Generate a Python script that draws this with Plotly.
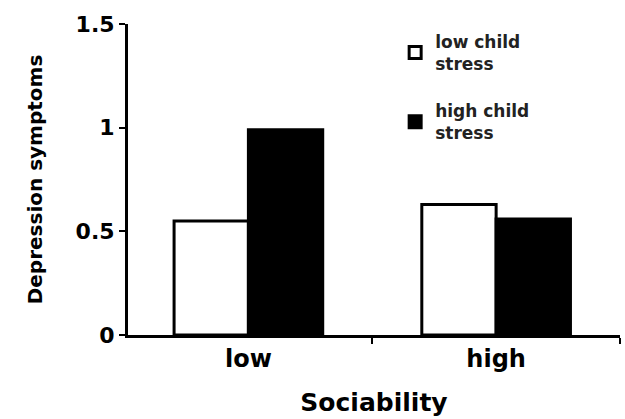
import plotly.graph_objects as go

# Mean depression symptoms by sociability level and child stress
sociability = ["low", "high"]
low_child_stress = [0.55, 0.63]
high_child_stress = [0.99, 0.56]
series_names = ["low child<br>stress", "high child<br>stress"]
y_ticks = [0, 0.5, 1, 1.5]
y_tick_labels = ["0", "0.5", "1", "1.5"]

FONT = "DejaVu Sans"

fig = go.Figure()
fig.add_trace(go.Bar(
    x=sociability, y=low_child_stress, name=series_names[0],
    legendgroup="a",
    marker=dict(color="white", line=dict(color="black", width=3)),
))
fig.add_trace(go.Bar(
    x=sociability, y=high_child_stress, name=series_names[1],
    legendgroup="b",
    marker=dict(color="black", line=dict(color="black", width=3)),
))

fig.update_layout(
    width=625, height=419,
    margin=dict(l=128, r=5, t=24, b=84),
    paper_bgcolor="white", plot_bgcolor="white",
    barmode="group", bargap=0.4, bargroupgap=0,
    font=dict(family=FONT, color="black", weight="bold"),
    showlegend=True,
    legend=dict(
        x=0.543, y=1.0, xanchor="left", yanchor="top",
        bgcolor="rgba(0,0,0,0)",
        font=dict(family=FONT, size=17, color="#222", weight="bold"),
        traceorder="grouped", tracegroupgap=22,
        itemwidth=30,
    ),
    xaxis=dict(
        type="category",
        range=[-0.486, 1.5],
        showline=True, linecolor="black", linewidth=3,
        ticks="outside", tickson="boundaries", ticklen=6,
        tickwidth=2, tickcolor="black",
        tickfont=dict(family=FONT, size=24, weight="bold"),
        title=dict(text="Sociability",
                   font=dict(family=FONT, size=25, weight="bold"),
                   standoff=22),
        showgrid=False, zeroline=False,
    ),
    yaxis=dict(
        range=[0, 1.5],
        tickvals=y_ticks, ticktext=y_tick_labels,
        showline=True, linecolor="black", linewidth=3,
        ticks="outside", ticklen=6, tickwidth=2, tickcolor="black",
        tickfont=dict(family=FONT, size=22, weight="bold"),
        title=dict(text="Depression symptoms",
                   font=dict(family=FONT, size=20, weight="bold"),
                   standoff=28),
        showgrid=False, zeroline=False,
    ),
)

fig.write_html("out.html")
